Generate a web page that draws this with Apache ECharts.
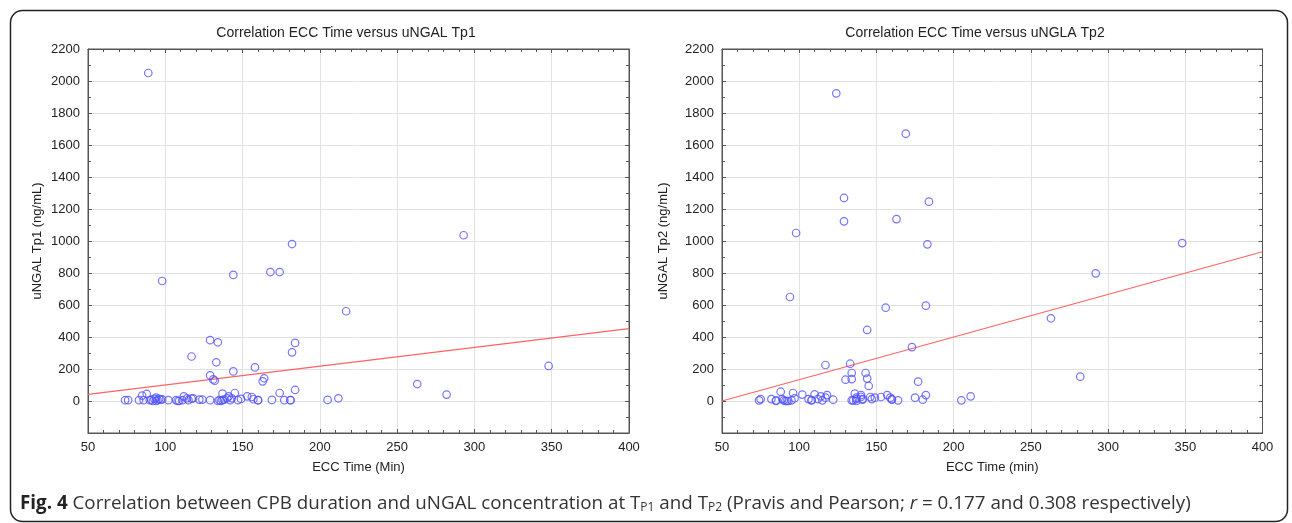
<!DOCTYPE html>
<html>
<head>
<meta charset="utf-8">
<script src="https://cdn.jsdelivr.net/npm/echarts@6/dist/echarts.min.js"></script>
<style>
html,body{margin:0;padding:0;background:#fff;}
#c{width:1292px;height:523px;}
</style>
</head>
<body>
<div id="c"></div>
<script>
// ---- data ----
const titles = ['Correlation ECC Time versus uNGAL Tp1', 'Correlation ECC Time versus uNGLA Tp2'];
const yNames = ['uNGAL Tp1 (ng/mL)', 'uNGAL Tp2 (ng/mL)'];
const xNames = ['ECC Time (Min)', 'ECC Time (min)'];
const xTicks = [50, 100, 150, 200, 250, 300, 350, 400];
const yTicks = [-200, 0, 200, 400, 600, 800, 1000, 1200, 1400, 1600, 1800, 2000, 2200];

const tp1Time = [74,76,83,85,86,88,90,91,92,93,94,94,95,96,97,98,89,98,102,107,108,109,111,112,114,115,117,117,118,122,124,129,129,129,131,132,133,134,134,135,136,137,138,137,140,141,142,143,144,145,147,149,153,156,157,158,160,160,163,164,169,174,177,181,181,182,184,184,205,212,217,144,168,174,182,263,282,293,348];
const tp1Ngal = [5,5,5,34,5,44,5,8,0,13,21,0,5,13,9,10,2050,750,5,5,0,0,5,29,17,5,278,15,17,9,9,380,5,160,135,127,242,367,0,5,0,5,9,46,17,29,5,17,185,50,5,13,29,25,11,210,5,5,123,142,7,50,5,5,5,304,69,363,7,17,561,788,806,806,981,106,40,1036,219];

const tp2Time = [74,75,82,85,85,88,89,90,91,92,93,95,96,97,102,106,108,108,110,112,114,115,117,117,118,122,130,133,134,134,134,135,136,137,137,137,140,140,141,141,143,144,144,145,146,147,149,153,156,157,159,160,160,164,173,175,177,180,182,182,205,211,263,282,292,348,98,129,129,169,184,163,183,94,124];
const tp2Ngal = [4,12,12,0,4,58,12,4,0,0,0,4,50,17,40,12,6,4,42,12,29,4,21,225,37,8,133,233,175,137,4,4,46,12,0,21,37,25,12,8,175,140,444,94,25,12,21,25,583,37,21,12,8,4,337,21,121,8,37,596,4,29,517,152,798,987,1050,1269,1123,1671,1246,1137,979,650,1923];

// fitted regression lines (endpoints)
const fitX = [50, 400];
const fit1Y = [42, 452];
const fit2Y = [0, 933];

// ---- chart ----
const zip = (a, b) => a.map((v, i) => [v, b[i]]);
const markColor = '#5252ff';
const lineColor = '#ff6464';
const frame = '#555';
const grids = [
  {left: 88, right: 663, top: 49, bottom: 90, show: true, borderColor: frame, borderWidth: 1},
  {left: 722, right: 29.5, top: 49, bottom: 90, show: true, borderColor: frame, borderWidth: 1}
];
const xAxes = [], yAxes = [];
[0, 1].forEach(g => {
  xAxes.push({
    type: 'value', gridIndex: g, position: 'bottom', min: xTicks[0], max: xTicks[xTicks.length - 1], interval: 50,
    name: xNames[g], nameLocation: 'middle', nameGap: 28,
    nameTextStyle: {fontFamily: 'Liberation Sans', fontSize: 13, color: '#222'},
    axisLine: {show: true, onZero: false, lineStyle: {color: frame}},
    axisTick: {show: true, inside: true, length: 4, lineStyle: {color: frame}},
    minorTick: {show: true, splitNumber: 5, length: 3, lineStyle: {color: frame}},
    axisLabel: {fontFamily: 'Liberation Sans', fontSize: 13, color: '#222', margin: 8},
    splitLine: {show: true, lineStyle: {color: '#e2e2e2', width: 1}}
  });
  xAxes.push({
    type: 'value', gridIndex: g, position: 'top', min: xTicks[0], max: xTicks[xTicks.length - 1], interval: 50,
    axisLine: {show: true, onZero: false, lineStyle: {color: frame}},
    axisTick: {show: true, inside: true, length: 4, lineStyle: {color: frame}},
    minorTick: {show: true, splitNumber: 5, length: 3, lineStyle: {color: frame}},
    axisLabel: {show: false}, splitLine: {show: false}
  });
  yAxes.push({
    type: 'value', gridIndex: g, position: 'left', min: yTicks[0], max: yTicks[yTicks.length - 1], interval: 200,
    name: yNames[g], nameLocation: 'middle', nameGap: g === 0 ? 44 : 52, nameRotate: 90,
    nameTextStyle: {fontFamily: 'Liberation Sans', fontSize: 13, color: '#222'},
    axisLine: {show: true, onZero: false, lineStyle: {color: frame}},
    axisTick: {show: true, inside: true, length: 4, lineStyle: {color: frame}},
    minorTick: {show: true, splitNumber: 2, length: 3, lineStyle: {color: frame}},
    axisLabel: {fontFamily: 'Liberation Sans', fontSize: 13, color: '#222', margin: 8,
      formatter: v => (v < 0 ? '' : String(v))},
    splitLine: {show: true, lineStyle: {color: '#e2e2e2', width: 1}}
  });
  yAxes.push({
    type: 'value', gridIndex: g, position: 'right', min: yTicks[0], max: yTicks[yTicks.length - 1], interval: 200,
    axisLine: {show: true, onZero: false, lineStyle: {color: frame}},
    axisTick: {show: true, inside: true, length: 4, lineStyle: {color: frame}},
    minorTick: {show: true, splitNumber: 2, length: 3, lineStyle: {color: frame}},
    axisLabel: {show: false}, splitLine: {show: false}
  });
});

const scatterStyle = {color: 'rgba(0,0,0,0)', borderColor: markColor, borderWidth: 1.2};
const option = {
  animation: false,
  backgroundColor: '#fff',
  title: [
    {text: titles[0], left: 341, top: 21, textAlign: 'center',
      textStyle: {fontFamily: 'Liberation Sans', fontSize: 14, fontWeight: 'normal', color: '#222'}},
    {text: titles[1], left: 970, top: 21, textAlign: 'center',
      textStyle: {fontFamily: 'Liberation Sans', fontSize: 14, fontWeight: 'normal', color: '#222'}}
  ],
  grid: grids,
  xAxis: xAxes,
  yAxis: yAxes,
  series: [
    {type: 'line', xAxisIndex: 0, yAxisIndex: 0, data: zip(fitX, fit1Y), symbol: 'none',
      lineStyle: {color: lineColor, width: 1.2}, z: 3},
    {type: 'scatter', xAxisIndex: 0, yAxisIndex: 0, data: zip(tp1Time, tp1Ngal), symbol: 'circle', symbolSize: 7.5,
      itemStyle: scatterStyle, z: 4},
    {type: 'line', xAxisIndex: 2, yAxisIndex: 2, data: zip(fitX, fit2Y), symbol: 'none',
      lineStyle: {color: lineColor, width: 1.2}, z: 3},
    {type: 'scatter', xAxisIndex: 2, yAxisIndex: 2, data: zip(tp2Time, tp2Ngal), symbol: 'circle', symbolSize: 7.5,
      itemStyle: scatterStyle, z: 4}
  ],
  graphic: [
    {type: 'rect', left: 8, top: 8, z: 100, silent: true,
      shape: {width: 1277, height: 511, r: 12},
      style: {fill: null, stroke: '#222', lineWidth: 1.5}},
    {type: 'text', left: 20, top: 494, z: 100,
      style: {
        text: '{b|Fig. 4} Correlation between CPB duration and uNGAL concentration at T{s|P1} and T{s|P2} (Pravis and Pearson; {i|r} = 0.177 and 0.308 respectively)',
        font: '18.8px "Open Sans"', fill: '#333',
        rich: {
          b: {fontFamily: 'Open Sans', fontSize: 18.8, fontWeight: 'bold', fill: '#222'},
          s: {fontFamily: 'Open Sans', fontSize: 12, verticalAlign: 'bottom', padding: [9, 0, 0, 0], fill: '#333'},
          i: {fontFamily: 'Open Sans', fontSize: 18.8, fontStyle: 'italic', fill: '#333'}
        }
      }}
  ]
};
const chart = echarts.init(document.getElementById('c'), null, {renderer: 'canvas'});
chart.setOption(option);
</script>
</body>
</html>
